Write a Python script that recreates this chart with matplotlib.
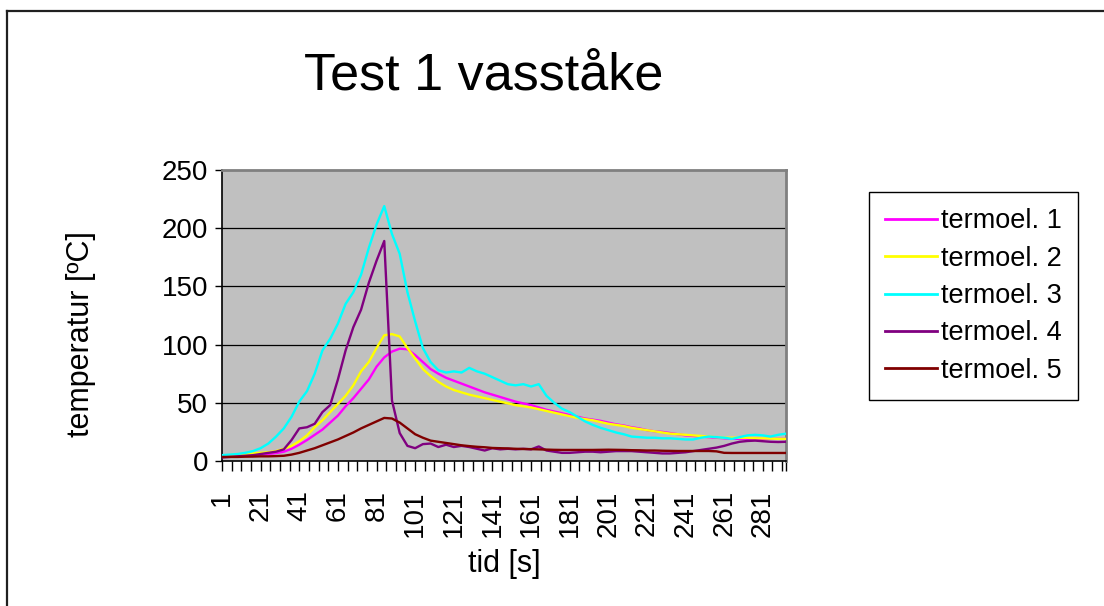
import matplotlib
matplotlib.use("Agg")
import matplotlib.pyplot as plt
from matplotlib.lines import Line2D
from matplotlib.ticker import FixedLocator, NullFormatter

plt.rcParams["font.family"] = ["Liberation Sans", "DejaVu Sans"]

# ── data (every 4 s) ────────────────────────────────────────────────────────
time_s = list(range(1, 294, 4))

termoel_1 = [4, 4, 4.5, 5, 5, 5.5, 6, 6.8, 8, 10.5,
             14, 18, 22.5, 27, 33, 39, 47, 54, 62, 70,
             81, 89, 94, 96.5, 96, 91, 85, 79, 75, 71.5,
             69, 66.5, 64, 61.5, 59, 57, 55, 53, 51, 49.5,
             48, 46, 44, 42.5, 41, 39.5, 38, 36.5, 35.5, 34.5,
             33, 31.5, 30.5, 29, 28, 26.5, 25.5, 25, 24, 23,
             22, 21.5, 21, 20.5, 20, 19.5, 19.2, 19, 19, 19,
             19, 19, 19, 19]
termoel_2 = [4.5, 5, 5.5, 6, 6.5, 7, 7.5, 8.5, 10.5, 13,
             17, 22, 29, 35, 42, 49, 56, 65, 77, 85,
             97, 108, 109, 107, 97, 88, 79, 73, 68, 64,
             61, 59, 57, 55.5, 54, 52.5, 51, 49.5, 48, 47,
             46, 44.5, 43, 41.5, 40, 38.5, 37, 36, 35, 33.5,
             32, 31, 30, 28.5, 27.5, 26.5, 25.5, 24.5, 23.5, 23,
             22.5, 22, 21.5, 21, 20.5, 20, 20, 20, 20, 19.5,
             19.5, 19.2, 19, 19]
termoel_3 = [5, 5.5, 6, 7, 8.5, 11, 15, 21, 28, 38,
             51, 60, 75, 95, 105, 118, 135, 145, 160, 183,
             203, 219, 195, 178, 145, 120, 97, 85, 78, 76,
             77, 76, 80, 77, 75, 72, 69, 66, 65, 66,
             64, 66, 56, 50, 45, 42, 38, 34, 31, 28.5,
             26.5, 24.5, 23, 21, 20.5, 20, 20, 19.5, 19.5, 19,
             18.5, 18.5, 20, 21, 20.5, 20, 19, 20.5, 22, 22.5,
             22, 21, 22.5, 23.5]
termoel_4 = [3, 3.5, 4, 4.5, 5, 6, 7, 8, 10, 18,
             28, 29, 32, 42, 48, 70, 95, 115, 130, 153,
             172, 189, 52, 24, 13, 11, 14.5, 15, 12, 14,
             12, 13, 12, 10.5, 9, 11, 10, 10.5, 10, 10.5,
             10, 12.5, 9, 8, 7, 7, 7.5, 8, 8, 7.5,
             8, 8.5, 8.5, 8.5, 8, 7.5, 7, 6.5, 6.5, 7,
             7.5, 8.5, 9.5, 10.5, 11.5, 13, 15, 16.5, 17.2, 17.5,
             17, 16.5, 16.3, 16.5]
termoel_5 = [3.5, 3.5, 3.5, 3.7, 3.8, 4, 4, 4.2, 4.5, 5.5,
             7, 9, 11, 13.5, 16, 18.5, 21.5, 24.5, 28, 31,
             34, 37, 36.5, 33, 28, 23, 20, 17.5, 16.5, 15.5,
             14.5, 13.5, 12.8, 12.2, 11.8, 11.2, 11, 10.8, 10.5, 10.3,
             10.2, 10, 9.8, 9.6, 9.5, 9.5, 9.5, 9.5, 9.5, 9.6,
             9.7, 9.6, 9.5, 9.3, 9.2, 9, 9, 8.8, 8.7, 8.6,
             8.6, 8.6, 8.6, 8.6, 8.3, 7, 6.9, 6.9, 6.9, 6.9,
             6.9, 6.9, 6.9, 6.9]

series = [
    ("termoel. 1", termoel_1, "#ff00ff"),
    ("termoel. 2", termoel_2, "#ffff00"),
    ("termoel. 3", termoel_3, "#00ffff"),
    ("termoel. 4", termoel_4, "#800080"),
    ("termoel. 5", termoel_5, "#800000"),
]

y_ticks = [0, 50, 100, 150, 200, 250]
x_label_ticks = list(range(1, 282, 20))
x_minor_ticks = list(range(1, 294, 5)) + [293]

# ── figure ──────────────────────────────────────────────────────────────────
W, H = 1104, 606
fig = plt.figure(figsize=(W / 100, H / 100), dpi=100, facecolor="white")
ax = fig.add_axes([222 / W, 1 - 461 / H, 564 / W, 291 / H])
ax.set_facecolor("#c0c0c0")

for label, vals, color in series:
    ax.plot(time_s, vals, color=color, linewidth=1.7, label=label,
            solid_joinstyle="round", zorder=3)

ax.set_xlim(1, 293)
ax.set_ylim(0, 250)

for v in y_ticks[1:-1]:
    ax.axhline(v, color="black", linewidth=0.9, zorder=1)

ax.set_yticks(y_ticks)
ax.tick_params(axis="y", direction="out", length=5, width=1, labelsize=20, pad=5)

ax.xaxis.set_major_locator(FixedLocator(x_label_ticks))
ax.xaxis.set_minor_locator(FixedLocator(x_minor_ticks))
ax.xaxis.set_minor_formatter(NullFormatter())
ax.set_xticklabels([str(t) for t in x_label_ticks], rotation=90, va="top")
ax.tick_params(axis="x", which="both", direction="out", length=7, width=1,
               labelsize=20, pad=14)

for side in ("top", "right"):
    ax.spines[side].set_color("#808080")
    ax.spines[side].set_linewidth(2)
for side in ("left", "bottom"):
    ax.spines[side].set_color("black")
    ax.spines[side].set_linewidth(1.2)

ax.set_ylabel("temperatur [ºC]", fontsize=22)
ax.yaxis.set_label_coords((96 - 222) / 564, (461 - 334) / 291)
ax.set_xlabel("tid [s]", fontsize=22)
ax.xaxis.set_label_coords(0.5, (461 - 549) / 291)

fig.text(484 / W, 1 - 90 / H, "Test 1 vasståke", fontsize=37.5,
         ha="center", va="baseline")

leg = ax.legend(loc="upper left", bbox_to_anchor=(869 / W, 1 - 192 / H),
                bbox_transform=fig.transFigure, fontsize=19.5, frameon=True,
                fancybox=False, shadow=False, framealpha=1, edgecolor="black",
                borderpad=0.6, labelspacing=0.42, handlelength=1.9,
                handletextpad=0.15, borderaxespad=0)
leg.get_frame().set_linewidth(1)
for line in leg.get_lines():
    line.set_linewidth(2)

# chart-area border (runs off the right and bottom edges)
fig.add_artist(Line2D([7 / W, 7 / W], [1 - 11 / H, -0.1],
                      transform=fig.transFigure, color="#202020", linewidth=1.6))
fig.add_artist(Line2D([7 / W, 1.1], [1 - 11 / H, 1 - 11 / H],
                      transform=fig.transFigure, color="#202020", linewidth=1.6))

fig.savefig("out.png", dpi=100, facecolor="white")
